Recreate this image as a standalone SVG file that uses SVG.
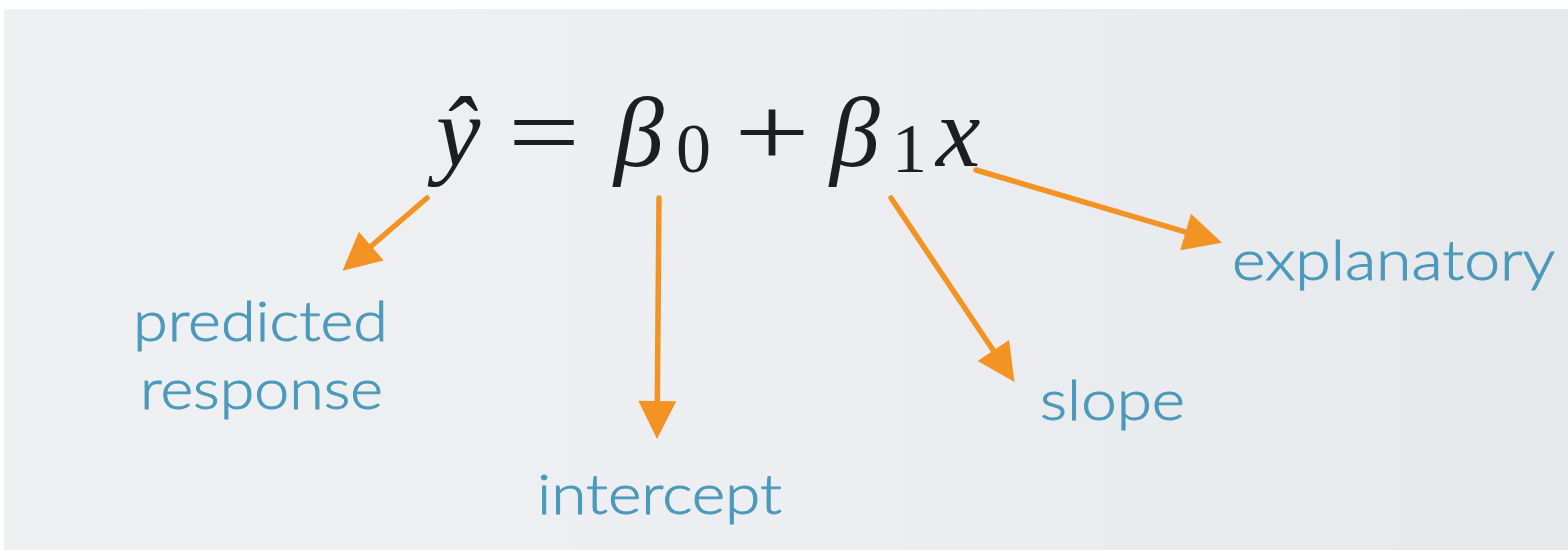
<svg xmlns="http://www.w3.org/2000/svg" width="1568" height="550" viewBox="0 0 1568 550">
<defs>
<style>
.eq{font-family:"Liberation Serif","DejaVu Serif",serif;fill:#1e1e1e}
.it{font-style:italic}
.lbl{font-family:Lato,"Open Sans","Liberation Sans",sans-serif;font-weight:300;fill:#4b99bb;stroke:#4b99bb;stroke-width:0.9;font-size:56px}
.arr{stroke:#f39323;stroke-width:5.5;fill:none;stroke-linecap:round;marker-end:url(#ah)}
</style>
<marker id="ah" markerUnits="userSpaceOnUse" markerWidth="40" markerHeight="40" viewBox="0 0 40 40" refX="3" refY="20" orient="auto" overflow="visible">
<path d="M0,1 L38,20 L0,39 Z" fill="#f39323"/>
</marker>
<linearGradient id="bg" x1="0" y1="0" x2="1" y2="0">
<stop offset="0" stop-color="#eef0f2"/>
<stop offset="0.5" stop-color="#eceef1"/>
<stop offset="1" stop-color="#e6e8ec"/>
</linearGradient>
</defs>
<rect x="0" y="0" width="1568" height="550" fill="#ffffff"/>
<rect x="4" y="9" width="1564" height="541" fill="url(#bg)"/>
<g id="equation">
<text class="eq it" x="436" y="166" font-size="100">ŷ</text>
<text class="eq" x="508" y="166" font-size="100" textLength="72" lengthAdjust="spacingAndGlyphs">=</text>
<text class="eq it" x="614" y="166" font-size="100">β</text>
<text class="eq" x="676" y="172" font-size="70">0</text>
<text class="eq" x="734" y="166" font-size="100" textLength="76" lengthAdjust="spacingAndGlyphs">+</text>
<text class="eq it" x="830" y="166" font-size="100">β</text>
<text class="eq" x="892" y="172" font-size="70">1</text>
<text class="eq it" x="936" y="166" font-size="100">x</text>
</g>
<g id="connectors">
<line class="arr" x1="427" y1="198" x2="369" y2="248"/>
<line class="arr" x1="659" y1="198" x2="657.3" y2="404"/>
<line class="arr" x1="891" y1="198" x2="995" y2="353"/>
<line class="arr" x1="976" y1="170" x2="1188.5" y2="232.8"/>
</g>
<g id="node-predicted-response">
<text class="lbl" x="133" y="341" textLength="255" lengthAdjust="spacingAndGlyphs">predicted</text>
<text class="lbl" x="140" y="409" textLength="243" lengthAdjust="spacingAndGlyphs">response</text>
</g>
<g id="node-intercept">
<text class="lbl" x="537" y="514" textLength="245" lengthAdjust="spacingAndGlyphs">intercept</text>
</g>
<g id="node-slope">
<text class="lbl" x="1040" y="420" textLength="145" lengthAdjust="spacingAndGlyphs">slope</text>
</g>
<g id="node-explanatory">
<text class="lbl" x="1232" y="280" textLength="323" lengthAdjust="spacingAndGlyphs">explanatory</text>
</g>
</svg>
